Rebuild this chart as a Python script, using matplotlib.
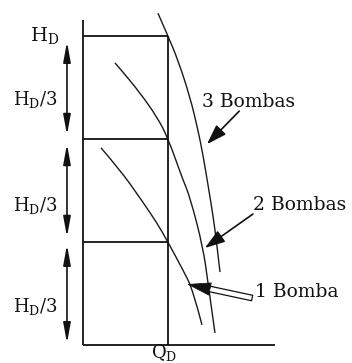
import matplotlib
matplotlib.use("Agg")
import matplotlib.pyplot as plt
from matplotlib.path import Path
from matplotlib.patches import PathPatch

# Pump curves (flow Q / Q_D, head H / H_D) for 1, 2 and 3 pumps in parallel
q_3 = [0.882, 1.0, 1.118, 1.259, 1.353, 1.412, 1.471, 1.529, 1.576, 1.612]
h_3 = [1.074, 1.0, 0.922, 0.803, 0.696, 0.615, 0.518, 0.421, 0.324, 0.236]

q_2 = [0.376, 0.471, 0.671, 0.871, 1.0, 1.176, 1.259, 1.412, 1.471, 1.553]
h_2 = [0.913, 0.883, 0.816, 0.738, 0.670, 0.534, 0.479, 0.317, 0.201, 0.039]

q_1 = [0.212, 0.435, 0.671, 0.871, 1.0, 1.176, 1.294, 1.4]
h_1 = [0.638, 0.567, 0.476, 0.395, 0.333, 0.243, 0.178, 0.065]

# Design-point grid: head levels and flow
head_levels = [1/3, 2/3, 1.0]
q_design = 1.0

curve_labels = ["3 Bombas", "2 Bombas", "1 Bomba"]
seg_label = r"$\mathregular{H_D/3}$"

plt.rcParams["font.family"] = ["DejaVu Serif"]
plt.rcParams["mathtext.fontset"] = "dejavuserif"

fig = plt.figure(figsize=(3.52, 3.63), dpi=100)
ax = fig.add_axes([0, 0, 1, 1])
ax.set_xlim(-0.976, 3.165)
ax.set_ylim(-0.0583, 1.1165)
ax.axis("off")

ink = "#111111"


def smooth_path(xs, ys):
    """Quadratic Bezier through the midpoints, with the read points as controls."""
    pts = list(zip(xs, ys))
    verts = [pts[0]]
    codes = [Path.MOVETO]
    for i in range(1, len(pts) - 1):
        mid = ((pts[i][0] + pts[i + 1][0]) / 2, (pts[i][1] + pts[i + 1][1]) / 2)
        if i == len(pts) - 2:
            mid = pts[-1]
        verts += [pts[i], mid]
        codes += [Path.CURVE3, Path.CURVE3]
    return Path(verts, codes)


# axes lines
ax.plot([0, 0], [0, 1.052], color=ink, lw=1.3, solid_capstyle="butt")
ax.plot([0, 2.26], [0, 0], color=ink, lw=1.3, solid_capstyle="butt")

# grid rectangle
for h in head_levels:
    ax.plot([0, q_design], [h, h], color=ink, lw=1.3, solid_capstyle="butt")
ax.plot([q_design, q_design], [0, 1.0], color=ink, lw=1.3, solid_capstyle="butt")

# pump curves
for q, h in [(q_3, h_3), (q_2, h_2), (q_1, h_1)]:
    ax.add_patch(PathPatch(smooth_path(q, h), fill=False, ec="#1a1a1a", lw=1.0))

# H_D/3 dimension arrows
arrow_x = -0.188
segments = [(0.981, 0.680), (0.650, 0.350), (0.324, 0.006)]
for top, bot in segments:
    ax.annotate("", xy=(arrow_x, bot), xytext=(arrow_x, top),
                arrowprops=dict(arrowstyle="<|-|>,head_length=1.2,head_width=0.22",
                                color=ink, lw=1.2, shrinkA=0, shrinkB=0,
                                mutation_scale=10))

label_y = [0.793, 0.453, 0.123]
for y in label_y:
    ax.text(-0.565, y, seg_label, fontsize=13, ha="center", va="center", color=ink)

ax.text(-0.62, 1.003, r"$\mathregular{H_D}$", fontsize=14, ha="left", va="center", color=ink)
ax.text(0.80, -0.0575, r"$\mathregular{Q_D}$", fontsize=13, ha="left", va="bottom", color=ink)

# curve labels with pointers
ax.annotate(curve_labels[0], xy=(1.459, 0.650), xytext=(1.40, 0.786),
            fontsize=13.5, va="center", ha="left", color=ink,
            arrowprops=dict(arrowstyle="-|>,head_length=0.9,head_width=0.3",
                            color=ink, lw=1.2, shrinkA=0, shrinkB=0,
                            patchA=None, relpos=(0.4, 0.0)))
ax.annotate(curve_labels[1], xy=(1.435, 0.314), xytext=(2.0, 0.453),
            fontsize=13.5, va="center", ha="left", color=ink,
            arrowprops=dict(arrowstyle="-|>,head_length=0.9,head_width=0.3",
                            color=ink, lw=1.2, shrinkA=0, shrinkB=0,
                            patchA=None, relpos=(0.0, 0.0)))

# "1 Bomba": double-line shaft with a solid head
tail = (1.990, 0.152)
tip = (1.224, 0.197)
ax.annotate("", xy=tip, xytext=tail,
            arrowprops=dict(arrowstyle="simple,head_length=0.01,head_width=0.4,tail_width=0.4",
                            fc="white", ec=ink, lw=0.9, shrinkA=0, shrinkB=12))
ax.annotate("", xy=tip, xytext=(1.48, 0.182),
            arrowprops=dict(arrowstyle="-|>,head_length=1.6,head_width=0.45",
                            color=ink, lw=0.5, shrinkA=0, shrinkB=0))
ax.text(2.024, 0.172, curve_labels[2], fontsize=13.5, va="center", ha="left", color=ink)

fig.savefig("out.png", dpi=100)
